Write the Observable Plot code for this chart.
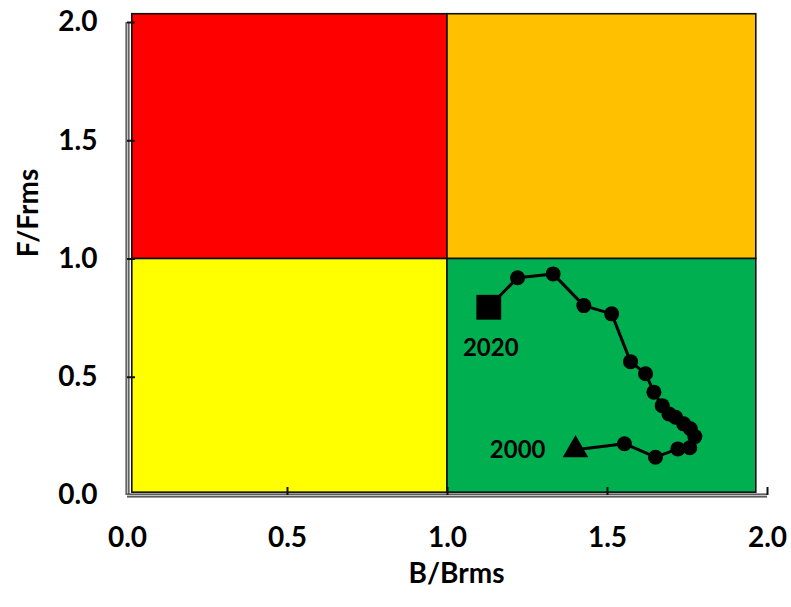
<!DOCTYPE html>
<html>
<head>
<meta charset="utf-8">
<script src="https://cdn.jsdelivr.net/npm/d3@7"></script>
<script src="https://cdn.jsdelivr.net/npm/@observablehq/plot@0.6"></script>
<style>
  html, body { margin: 0; padding: 0; background: #fff; }
  #chart svg { display: block; }
</style>
</head>
<body>
<div id="chart"></div>
<script>
// Trajectory (2000 -> 2020)
const bRatio = [1.400, 1.553, 1.650, 1.720, 1.757, 1.773, 1.759, 1.738, 1.713, 1.692, 1.671, 1.645, 1.619, 1.572, 1.513, 1.426, 1.330, 1.219, 1.129];
const fRatio = [0.193, 0.219, 0.162, 0.197, 0.202, 0.249, 0.282, 0.303, 0.331, 0.345, 0.380, 0.437, 0.515, 0.566, 0.768, 0.803, 0.937, 0.921, 0.796];
const firstYear = "2000";
const lastYear = "2020";

// Background zones
const zoneNames = ["overfished", "overfishing", "recovering", "healthy"];
const zoneX1 = [0.015, 1.0, 0.015, 1.0];
const zoneX2 = [1.0, 1.965, 1.0, 1.965];
const zoneY1 = [1.0, 1.0, 0.012, 0.012];
const zoneY2 = [2.035, 2.035, 1.0, 1.0];
const zoneColors = ["#FF0000", "#FFC000", "#FFFF00", "#00B050"];

// Axes
const xTicks = [0, 0.5, 1.0, 1.5, 2.0];
const yTicks = [0, 0.5, 1.0, 1.5, 2.0];
const xLabel = "B/Brms";
const yLabel = "F/Frms";

const W = 791, H = 607;
const mL = 127, mR = 24, mT = 22, mB = 112;
const frameW = W - mL - mR, frameH = H - mT - mB;
const font = "Lato, 'Open Sans', sans-serif";

const zones = zoneNames.map((n, i) => ({n, x1: zoneX1[i], x2: zoneX2[i], y1: zoneY1[i], y2: zoneY2[i], c: zoneColors[i]}));
const pts = bRatio.map((b, i) => ({b, f: fRatio[i], i}));
const mid = pts.slice(1, -1);
const first = [pts[0]], last = [pts[pts.length - 1]];

const chart = Plot.plot({
  width: W, height: H,
  marginLeft: mL, marginRight: mR, marginTop: mT, marginBottom: mB,
  x: {domain: [0, 2]},
  y: {domain: [0, 2]},
  style: {fontFamily: font, fontWeight: "bold", fontSize: "27px", color: "#000", background: "#fff"},
  marks: [
    Plot.rect(zones, {x1: "x1", x2: "x2", y1: "y1", y2: "y2", fill: "c", stroke: "#111", strokeWidth: 1.6}),
    // axis lines
    Plot.ruleX([0], {stroke: "#3a3a3a", strokeWidth: 4}),
    Plot.ruleX([0], {stroke: "#c4c4c4", strokeWidth: 1.6}),
    Plot.ruleY([0], {stroke: "#3a3a3a", strokeWidth: 4}),
    Plot.ruleY([0], {stroke: "#c4c4c4", strokeWidth: 1.6}),
    // inward ticks
    Plot.ruleX(xTicks.slice(1), {x: d => d, insetTop: frameH - 8, stroke: "#111", strokeWidth: 2}),
    Plot.ruleY(yTicks.slice(1), {y: d => d, insetRight: frameW - 8, stroke: "#111", strokeWidth: 2}),
    Plot.axisX({ticks: xTicks, tickFormat: d3.format(".1f"), tickSize: 0, tickPadding: 32, fontSize: 28, label: null}),
    Plot.axisY({ticks: yTicks, tickFormat: d3.format(".1f"), tickSize: 0, tickPadding: 30, fontSize: 28, label: null}),
    // trajectory
    Plot.line(pts, {x: "b", y: "f", stroke: "#000", strokeWidth: 3}),
    Plot.dot(mid, {x: "b", y: "f", r: 7.5, fill: "#000", stroke: "none"}),
    Plot.dot(first, {x: "b", y: "f", symbol: "triangle", r: 9.5, fill: "#000", stroke: "none"}),
    Plot.dot(last, {x: "b", y: "f", symbol: "square", r: 14, fill: "#000", stroke: "none"}),
    Plot.text(first, {x: "b", y: "f", text: () => firstYear, textAnchor: "end", dx: -30, dy: 0, fontSize: 24, fill: "#000"}),
    Plot.text(last, {x: "b", y: "f", text: () => lastYear, dx: 2, dy: 41, fontSize: 24, fill: "#000"}),
    // axis titles
    Plot.text([xLabel], {text: d => d, frameAnchor: "bottom", textAnchor: "middle", dx: 9, dy: 87, fontSize: 28, fill: "#000"}),
    Plot.text([yLabel], {text: d => d, frameAnchor: "left", textAnchor: "middle", rotate: -90, dx: -98, dy: -46, fontSize: 28, fill: "#000"})
  ]
});
document.getElementById("chart").appendChild(chart);
</script>
</body>
</html>
